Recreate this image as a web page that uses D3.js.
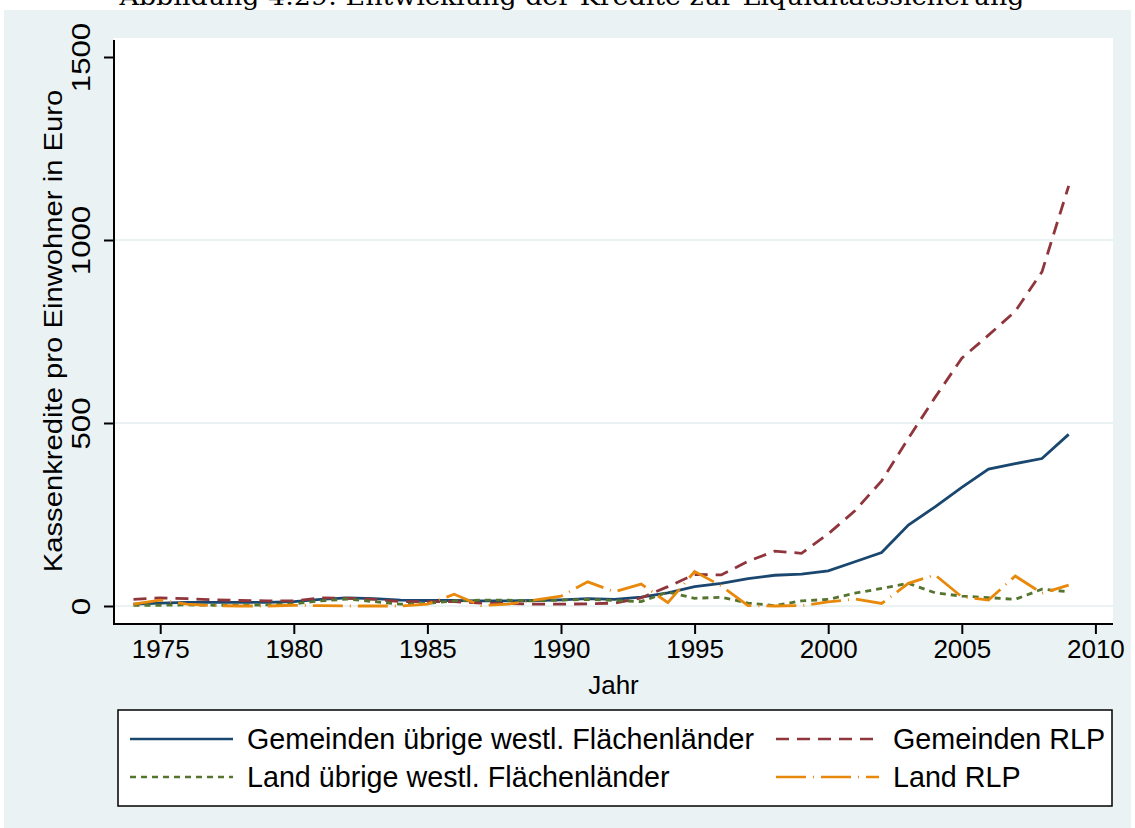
<!DOCTYPE html>
<html>
<head>
<meta charset="utf-8">
<script src="https://cdn.jsdelivr.net/npm/d3@7"></script>
<style>
  body { margin: 0; background: #fff; }
  text { font-family: "Liberation Sans", Arial, sans-serif; }
</style>
</head>
<body>
<script>
// data (Euro per inhabitant)
const years = d3.range(1974, 2010)
const gemUebrige = [5, 8, 10, 10, 10, 10, 12, 18, 22, 20, 16, 15, 15, 14, 14, 15, 17, 20, 18, 24,
  36, 53, 62, 75, 84, 87, 96, 121, 146, 221, 271, 324, 374, 389, 403, 469]
const gemRLP = [18, 22, 20, 17, 15, 14, 14, 22, 21, 18, 12, 12, 12, 8, 7, 5, 5, 6, 8, 22,
  53, 86, 85, 122, 150, 144, 197, 260, 342, 458, 570, 677, 740, 805, 913, 1148]
const landUebrige = [2, 2, 3, 2, 2, 3, 6, 14, 19, 12, 5, 7, 14, 16, 16, 14, 16, 18, 15, 12,
  38, 21, 24, 8, 1, 14, 18, 35, 48, 62, 36, 27, 23, 18, 46, 39]
const landRLP = [5, 16, 5, 1, 0, 0, 2, 1, 0, 0, 0, 5, 32, 1, 5, 16, 27, 66, 39, 60,
  9, 94, 55, 1, 0, 1, 11, 19, 7, 62, 85, 25, 16, 82, 35, 57]
const xTicks = [1975, 1980, 1985, 1990, 1995, 2000, 2005, 2010]
const yTicks = [0, 500, 1000, 1500]
const yGrid = [0, 500, 1000]

const seriesNames = ['Gemeinden übrige westl. Flächenländer', 'Gemeinden RLP',
  'Land übrige westl. Flächenländer', 'Land RLP']

const series = [
  { name: seriesNames[0], values: gemUebrige, color: '#1a476f', dash: null },
  { name: seriesNames[1], values: gemRLP, color: '#90353b', dash: '13,8' },
  { name: seriesNames[2], values: landUebrige, color: '#55752f', dash: '6,5' },
  { name: seriesNames[3], values: landRLP, color: '#e8890c', dash: '30,7,1,7' }
]

const width = 1135
const height = 828
const plot = { left: 114, right: 1113, top: 38, bottom: 624 }

const svg = d3.select('body')
  .append('svg')
  .attr('width', width)
  .attr('height', height)

// page title (cut off at the top in the original)
svg.append('text')
  .attr('x', 572)
  .attr('y', 5)
  .attr('text-anchor', 'middle')
  .style('font-family', '"DejaVu Serif", "Liberation Serif", serif')
  .style('font-size', '24px')
  .attr('textLength', 905)
  .attr('lengthAdjust', 'spacingAndGlyphs')
  .text('Abbildung 4.29: Entwicklung der Kredite zur Liquiditätssicherung')

// graph region
svg.append('rect')
  .attr('x', 4).attr('y', 10)
  .attr('width', width - 8).attr('height', height - 10)
  .attr('fill', '#eaf2f3')

// plot region
svg.append('rect')
  .attr('x', plot.left).attr('y', plot.top)
  .attr('width', plot.right - plot.left).attr('height', plot.bottom - plot.top)
  .attr('fill', '#fff')

const x = d3.scaleLinear()
  .domain([1975, 2010])
  .range([160.2, 1095.4])

const y = d3.scaleLinear()
  .domain([0, 1500])
  .range([606, 57])

// grid
svg.append('g')
  .selectAll('line')
  .data(yGrid)
  .enter()
  .append('line')
  .attr('x1', plot.left + 1)
  .attr('x2', plot.right)
  .attr('y1', d => y(d))
  .attr('y2', d => y(d))
  .attr('stroke', '#eaf2f3')
  .attr('stroke-width', 2)

// axes
const xAxis = svg.append('g')
  .attr('transform', `translate(0,${plot.bottom})`)
  .call(d3.axisBottom(x).tickValues(xTicks).tickFormat(d3.format('d')).tickSize(10).tickPadding(6))
xAxis.select('.domain').remove()
xAxis.selectAll('line').attr('stroke', '#000').attr('stroke-width', 2)
xAxis.selectAll('text').style('font-size', '26px').attr('fill', '#000')

const yAxis = svg.append('g')
  .attr('transform', `translate(${plot.left},0)`)
  .call(d3.axisLeft(y).tickValues(yTicks).tickFormat(d3.format('d')).tickSize(10))
yAxis.select('.domain').remove()
yAxis.selectAll('line').attr('stroke', '#000').attr('stroke-width', 2)
yAxis.selectAll('text')
  .attr('x', 0).attr('dy', null)
  .attr('text-anchor', 'middle')
  .attr('transform', 'translate(-24,0) rotate(-90) scale(1.25,1)')
  .style('font-size', '25px')
  .attr('fill', '#000')

// axis lines
svg.append('line')
  .attr('x1', plot.left).attr('x2', plot.left)
  .attr('y1', plot.top + 2).attr('y2', plot.bottom + 1)
  .attr('stroke', '#000').attr('stroke-width', 2)
svg.append('line')
  .attr('x1', plot.left).attr('x2', plot.right)
  .attr('y1', plot.bottom).attr('y2', plot.bottom)
  .attr('stroke', '#000').attr('stroke-width', 2)

// axis titles
svg.append('text')
  .attr('x', (plot.left + plot.right) / 2)
  .attr('y', 694)
  .attr('text-anchor', 'middle')
  .style('font-size', '26px')
  .text('Jahr')

svg.append('text')
  .attr('transform', 'translate(62,331) rotate(-90) scale(1.17,1)')
  .attr('text-anchor', 'middle')
  .style('font-size', '25px')
  .text('Kassenkredite pro Einwohner in Euro')

// lines
const line = d3.line()
  .x((d, i) => x(years[i]))
  .y(d => y(d))

svg.append('g')
  .selectAll('path')
  .data(series)
  .enter()
  .append('path')
  .attr('d', d => line(d.values))
  .attr('fill', 'none')
  .attr('stroke', d => d.color)
  .attr('stroke-width', 2.8)
  .attr('stroke-dasharray', d => d.dash)

// legend
svg.append('rect')
  .attr('x', 118).attr('y', 710)
  .attr('width', 994).attr('height', 96)
  .attr('fill', '#fff')
  .attr('stroke', '#000')
  .attr('stroke-width', 1.5)

const legendPos = [
  { kx: 130, tx: 247, y: 739 },
  { kx: 776, tx: 893, y: 739 },
  { kx: 130, tx: 247, y: 777 },
  { kx: 776, tx: 893, y: 777 }
]

const legend = svg.append('g')
  .selectAll('g')
  .data(series)
  .enter()
  .append('g')
  .attr('transform', (d, i) => `translate(0,${legendPos[i].y})`)

legend.append('line')
  .attr('x1', (d, i) => legendPos[i].kx)
  .attr('x2', (d, i) => legendPos[i].kx + 103)
  .attr('stroke', d => d.color)
  .attr('stroke-width', 2.6)
  .attr('stroke-dasharray', d => d.dash)

legend.append('text')
  .attr('x', (d, i) => legendPos[i].tx)
  .attr('dy', '0.35em')
  .style('font-size', '28.7px')
  .text(d => d.name)
</script>
</body>
</html>
